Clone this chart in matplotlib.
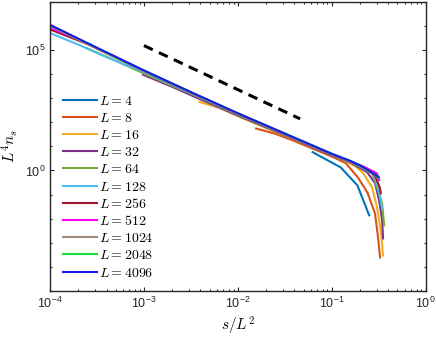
import numpy as np
import matplotlib
matplotlib.use('Agg')
import matplotlib.pyplot as plt
from matplotlib.ticker import LogLocator, NullFormatter, FixedLocator

plt.rcParams['font.family'] = ['Liberation Sans', 'DejaVu Sans']
plt.rcParams['mathtext.fontset'] = 'cm'

# system sizes and MATLAB-like colours
L_vals = [4, 8, 16, 32, 64, 128, 256, 512, 1024, 2048, 4096]
colores = ['#0072BD', '#D95319', '#EDB120', '#7E2F8E', '#77AC30', '#4DBEEE',
           '#A2142F', '#FF00FF', '#A08C78', '#18E040', '#1A1AE6']

# curvas: log10(s/L^2) y log10(L^4 n_s)
lx_4 = [-1.204, -0.903, -0.727, -0.602]
ly_4 = [0.76, 0.12, -0.62, -1.86]

lx_8 = [-1.806, -1.6, -1.4, -1.2, -1.0, -0.85, -0.72, -0.62, -0.54, -0.507, -0.486]
ly_8 = [1.74, 1.52, 1.22, 0.90, 0.58, 0.30, -0.30, -0.92, -1.78, -2.78, -3.61]

lx_16 = [-2.408, -2.2, -2.0, -1.7, -1.4, -1.1, -0.9, -0.75, -0.667, -0.571, -0.518, -0.475, -0.454]
ly_16 = [2.84, 2.60, 2.25, 1.76, 1.28, 0.80, 0.47, 0.18, -0.11, -0.70, -1.53, -2.61, -3.53]

lx_32 = [-3.01, -2.7, -2.4, -2.0, -1.5, -1.0, -0.8, -0.624, -0.539, -0.496, -0.464, -0.454]
ly_32 = [3.97, 3.47, 2.95, 2.28, 1.46, 0.63, 0.33, -0.07, -0.53, -1.24, -2.07, -2.82]

lx_64 = [-3.612, -3.3, -3.0, -2.6, -2.0, -1.5, -1.0, -0.8, -0.571, -0.518, -0.464, -0.443]
ly_64 = [5.08, 4.55, 4.02, 3.35, 2.32, 1.49, 0.66, 0.36, -0.11, -0.70, -1.36, -2.28]

lx_128 = [-4.0, -3.7, -3.4, -3.0, -2.5, -2.0, -1.5, -1.0, -0.8, -0.65, -0.560, -0.506, -0.464]
ly_128 = [5.70, 5.22, 4.70, 4.08, 3.20, 2.34, 1.50, 0.66, 0.36, 0.10, -0.11, -0.70, -1.57]

lx_256 = [-4.0, -3.6, -3.0, -2.5, -2.0, -1.5, -1.0, -0.8, -0.65, -0.54, -0.49, -0.478]
ly_256 = [5.85, 5.24, 4.12, 3.22, 2.35, 1.51, 0.67, 0.37, 0.12, -0.21, -0.70, -0.95]

lx_512 = [-4.0, -3.7, -3.0, -2.5, -2.0, -1.5, -1.0, -0.8, -0.65, -0.52, -0.496]
ly_512 = [5.93, 5.44, 4.13, 3.23, 2.36, 1.52, 0.68, 0.38, 0.14, -0.12, -0.40]

lx_1024 = [-4.0, -3.5, -3.0, -2.5, -2.0, -1.5, -1.0, -0.8, -0.7, -0.6, -0.55, -0.505]
ly_1024 = [6.00, 5.06, 4.13, 3.23, 2.36, 1.52, 0.68, 0.38, 0.20, -0.03, -0.15, -0.30]

lx_2048 = [-4.0, -3.5, -3.0, -2.5, -2.0, -1.5, -1.0, -0.8, -0.7, -0.6, -0.55, -0.50]
ly_2048 = [6.03, 5.08, 4.14, 3.24, 2.37, 1.53, 0.69, 0.39, 0.21, -0.02, -0.14, -0.30]

lx_4096 = [-4.0, -3.5, -3.0, -2.5, -2.0, -1.5, -1.0, -0.8, -0.7, -0.6, -0.55, -0.50]
ly_4096 = [6.04, 5.09, 4.15, 3.25, 2.37, 1.53, 0.69, 0.39, 0.21, -0.02, -0.14, -0.28]

curvas_x = [lx_4, lx_8, lx_16, lx_32, lx_64, lx_128, lx_256, lx_512, lx_1024, lx_2048, lx_4096]
curvas_y = [ly_4, ly_8, ly_16, ly_32, ly_64, ly_128, ly_256, ly_512, ly_1024, ly_2048, ly_4096]

# linea de referencia (pendiente)
ref_x = [1e-3, 0.046]
ref_ly = [5.18, 2.14]

fig = plt.figure(figsize=(4.36, 3.37), dpi=100)
ax = fig.add_axes([0.1147, 0.1365, 0.8617, 0.8585])

for L, c, lx, ly in zip(L_vals, colores, curvas_x, curvas_y):
    ax.plot(10 ** np.array(lx), 10 ** np.array(ly), color=c, lw=1.5, label=r'$L = %d$' % L)

ax.plot(ref_x, 10 ** np.array(ref_ly), color='black', lw=2.2, ls=(0, (3.2, 2.2)))

ax.set_xscale('log')
ax.set_yscale('log')
ax.set_xlim(1e-4, 1)
ax.set_ylim(1e-5, 1e7)

ax.yaxis.set_major_locator(FixedLocator([1, 1e5]))
ax.yaxis.set_minor_locator(FixedLocator([10.0 ** k for k in range(-5, 8)]))
ax.yaxis.set_minor_formatter(NullFormatter())
ax.xaxis.set_major_locator(LogLocator(base=10, numticks=10))
ax.xaxis.set_minor_locator(LogLocator(base=10, subs=np.arange(2, 10), numticks=20))
ax.xaxis.set_minor_formatter(NullFormatter())

ax.tick_params(which='both', direction='in', top=True, right=True, labelsize=9, colors='#262626')
ax.tick_params(which='major', length=4.3 / 1.389, width=0.8)
ax.tick_params(which='minor', length=2.3 / 1.389, width=0.8)
for sp in ax.spines.values():
    sp.set_linewidth(1.0)
    sp.set_color('#262626')

ax.set_xlabel(r'$s/L^2$', fontsize=11, labelpad=3)
ax.set_ylabel(r'$L^4 n_s$', fontsize=11, labelpad=3)

ax.legend(loc='upper left', bbox_to_anchor=(0.0, 0.728), frameon=False, fontsize=10,
          handlelength=2.45, handletextpad=0.12, labelspacing=0.23, borderaxespad=0.55)

fig.savefig('out.png', dpi=100)
